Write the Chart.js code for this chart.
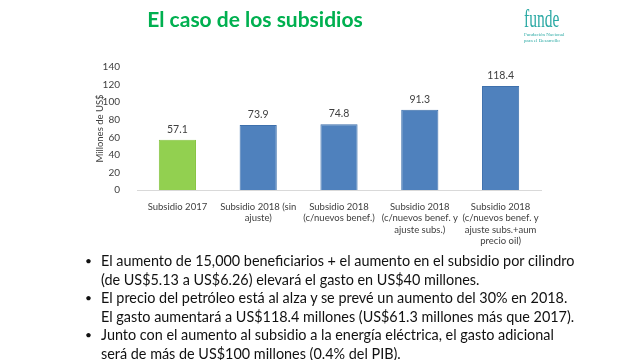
<!DOCTYPE html>
<html><head><meta charset="utf-8">
<script src="https://cdn.jsdelivr.net/npm/chart.js@4/dist/chart.umd.min.js"></script>
<style>
html,body{margin:0;padding:0;background:#fff;width:627px;height:360px;overflow:hidden;font-family:Lato,"Open Sans",sans-serif;}
#wrap{position:absolute;left:0;top:0;width:627px;height:360px;}
#title{position:absolute;left:0;width:510px;top:6px;text-align:center;color:#00B050;font-weight:bold;font-size:21px;font-family:Lato,sans-serif;}
#logo{position:absolute;left:524px;top:5px;color:#2AA9A4;font-family:"Liberation Serif",serif;transform-origin:0 0;}
#logo .big{font-size:25px;line-height:27px;transform:scaleX(0.62);transform-origin:0 0;}
#logo .small{font-size:5px;line-height:6px;white-space:nowrap;}
#bul{position:absolute;left:84px;top:252px;width:530px;margin:0;padding:0;list-style:none;font-size:14.4px;line-height:18.5px;color:#111;}
#bul li{position:relative;padding-left:17px;}
#bul li:before{content:"•";position:absolute;left:1px;font-size:12px;}
</style></head>
<body>
<div id="wrap"><canvas id="c" width="627" height="360"></canvas></div>
<div id="title">El caso de los subsidios</div>
<div id="logo"><div class="big">funde</div><div class="small">Fundación Nacional<br>para el Desarrollo</div></div>
<ul id="bul">
<li>El aumento de 15,000 beneficiarios + el aumento en el subsidio por cilindro<br>(de US$5.13 a US$6.26) elevará el gasto en US$40 millones.</li>
<li>El precio del petróleo está al alza y se prevé un aumento del 30% en 2018.<br>El gasto aumentará a US$118.4 millones (US$61.3 millones más que 2017).</li>
<li>Junto con el aumento al subsidio a la energía eléctrica, el gasto adicional<br>será de más de US$100 millones (0.4% del PIB).</li>
</ul>
<script>
const categories = [
  "Subsidio 2017",
  ["Subsidio 2018 (sin", "ajuste)"],
  ["Subsidio 2018", "(c/nuevos benef.)"],
  ["Subsidio 2018", "(c/nuevos benef. y", "ajuste subs.)"],
  ["Subsidio 2018", "(c/nuevos benef. y", "ajuste subs.+aum", "precio oil)"]
];
const values = [57.1, 73.9, 74.8, 91.3, 118.4];
const barColors = ["#92D050", "#4F81BD", "#4F81BD", "#4F81BD", "#4F81BD"];
const borderColors = ["#86C440", "#3E70AC", "#3E70AC", "#3E70AC", "#3E70AC"];
const yTicks = [0, 20, 40, 60, 80, 100, 120, 140];

const valueLabels = {
  id: 'valueLabels',
  afterDatasetsDraw(chart) {
    const ctx = chart.ctx;
    const meta = chart.getDatasetMeta(0);
    ctx.save();
    ctx.font = '10.5px Lato, sans-serif';
    ctx.fillStyle = '#404040';
    ctx.textAlign = 'center';
    ctx.textBaseline = 'bottom';
    meta.data.forEach((bar, i) => {
      ctx.fillText(values[i].toFixed(1), bar.x, bar.y - 5);
    });
    ctx.restore();
  }
};

new Chart(document.getElementById('c'), {
  type: 'bar',
  data: {
    labels: categories,
    datasets: [{
      data: values,
      backgroundColor: barColors,
      borderColor: borderColors,
      borderWidth: 1,
      barPercentage: 0.46,
      categoryPercentage: 1
    }]
  },
  options: {
    responsive: false,
    animation: false,
    devicePixelRatio: 1,
    layout: { padding: { left: 92, right: 86, top: 67, bottom: 111 } },
    plugins: { legend: { display: false }, tooltip: { enabled: false } },
    scales: {
      x: {
        grid: { display: false },
        border: { display: true, color: '#D9D9D9', width: 1 },
        ticks: { color: '#404040', font: { size: 9.5, family: 'Lato, sans-serif' }, padding: 3, maxRotation: 0, autoSkip: false },
        afterFit(s) { s.height = 59; }
      },
      y: {
        min: 0, max: 140,
        afterBuildTicks(s) { s.ticks = yTicks.map(v => ({ value: v })); },
        grid: { display: false },
        border: { display: false },
        ticks: { color: '#404040', font: { size: 10, family: 'Lato, sans-serif' }, padding: 9 },
        title: { display: true, text: 'Millones de US$', color: '#404040', font: { size: 9.5, family: 'Lato, sans-serif' }, padding: 2 },
        afterFit(s) { s.width = 45; }
      }
    }
  },
  plugins: [valueLabels]
});
</script>
</body></html>
